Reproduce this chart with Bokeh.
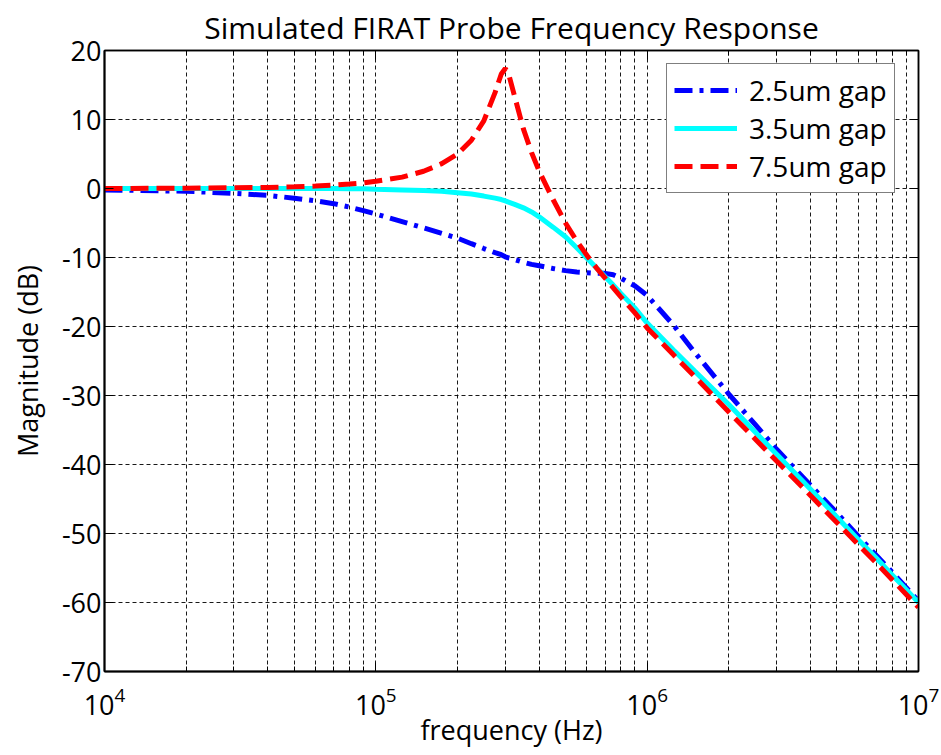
from bokeh.plotting import figure
from bokeh.models import (LogAxis, LinearAxis, Legend, LegendItem,
                          FixedTicker, ColumnDataSource)
from bokeh.embed import file_html
from bokeh.resources import INLINE

# ---- data ----
freq_hz = [1e4, 2e4, 3e4, 4e4, 5e4, 6e4, 7e4, 8e4, 9e4, 1e5,
           1.25e5, 1.5e5, 1.75e5, 2e5, 2.25e5, 2.5e5, 2.75e5, 2.9e5, 3e5, 3.1e5,
           3.25e5, 3.5e5, 3.75e5, 4e5, 4.5e5, 5e5, 5.5e5, 6e5, 6.5e5, 7e5,
           7.5e5, 8e5, 9e5, 1e6, 1.25e6, 1.5e6, 2e6, 2.5e6, 3e6, 4e6,
           5e6, 6e6, 7e6, 8e6, 9e6, 1e7]

gap_2_5um = [-0.2, -0.4, -0.7, -1.0, -1.4, -1.8, -2.2, -2.7, -3.2, -3.7,
             -4.8, -5.7, -6.5, -7.2, -8.0, -8.7, -9.3, -9.6, -9.9, -10.1,
             -10.3, -10.7, -11.0, -11.2, -11.6, -11.9, -12.1, -12.2, -12.3, -12.3,
             -12.5, -13.0, -14.1, -15.5, -19.8, -23.8, -29.8, -34.2, -37.8, -43.0,
             -47.0, -50.4, -53.2, -55.6, -57.8, -59.8]

gap_3_5um = [0.0, 0.0, 0.0, 0.0, 0.0, 0.0, 0.0, -0.05, -0.05, -0.1,
             -0.2, -0.3, -0.4, -0.6, -0.8, -1.1, -1.4, -1.6, -1.8, -2.0,
             -2.3, -2.8, -3.4, -4.1, -5.6, -7.0, -8.6, -10.1, -11.5, -12.8,
             -14.0, -15.2, -17.3, -19.5, -23.4, -26.5, -31.3, -35.3, -38.5, -43.6,
             -47.6, -50.9, -53.6, -56.0, -58.1, -60.0]

gap_7_5um = [0.0, 0.05, 0.1, 0.15, 0.25, 0.35, 0.5, 0.65, 0.8, 1.05,
             1.65, 2.5, 3.6, 5.0, 7.0, 9.8, 13.9, 16.6, 17.4, 16.3,
             13.3, 8.6, 5.2, 2.5, -1.6, -5.0, -7.6, -9.7, -11.5, -13.0,
             -14.4, -15.7, -18.0, -20.2, -24.1, -27.3, -32.4, -36.3, -39.5, -44.5,
             -48.4, -51.6, -54.3, -56.7, -58.8, -60.7]

series_labels = ["2.5um gap", "3.5um gap", "7.5um gap"]
x_major_ticks = [1e4, 1e5, 1e6, 1e7]
y_ticks = [20, 10, 0, -10, -20, -30, -40, -50, -60, -70]

FONT = "Open Sans"

src = ColumnDataSource(dict(f=freq_hz, a=gap_2_5um, b=gap_3_5um, c=gap_7_5um))

p = figure(width=941, height=755, x_axis_type="log",
           x_range=(x_major_ticks[0], x_major_ticks[-1]),
           y_range=(y_ticks[-1], y_ticks[0]),
           output_backend="svg", toolbar_location=None,
           min_border_left=104, min_border_right=23,
           min_border_top=50, min_border_bottom=84,
           title="Simulated FIRAT Probe Frequency Response")

p.title.align = "center"
p.title.text_font = FONT
p.title.text_font_size = "30px"
p.title.text_font_style = "normal"
p.title.text_color = "black"
p.title.standoff = 6

p.outline_line_color = "black"
p.outline_line_width = 1.5
p.background_fill_color = "white"
p.border_fill_color = "white"

minor_x = [m * d for d in x_major_ticks[:-1] for m in range(2, 10)]

# bottom axis (default log formatter draws 10 with a superscript exponent)
xa = p.xaxis[0]
xa.ticker = FixedTicker(ticks=x_major_ticks, minor_ticks=minor_x)
xa.major_label_text_font = FONT
xa.major_label_text_font_size = "27px"
xa.major_label_text_color = "black"
xa.major_label_standoff = 15
xa.axis_label = "frequency (Hz)"
xa.axis_label_text_font = FONT
xa.axis_label_text_font_size = "27px"
xa.axis_label_text_font_style = "normal"
xa.axis_label_text_color = "black"
xa.axis_label_standoff = -7
xa.axis_line_color = "black"
xa.axis_line_width = 2
xa.major_tick_in = 9
xa.major_tick_out = 0
xa.minor_tick_in = 5
xa.minor_tick_out = 0
xa.major_tick_line_color = "black"
xa.minor_tick_line_color = "black"

# left axis
ya = p.yaxis[0]
ya.ticker = FixedTicker(ticks=y_ticks)
ya.major_label_overrides = {t: str(t) for t in y_ticks}
ya.major_label_text_font = FONT
ya.major_label_text_font_size = "27px"
ya.major_label_text_color = "black"
ya.major_label_standoff = 3
ya.axis_label = "Magnitude (dB)"
ya.axis_label_text_font = FONT
ya.axis_label_text_font_size = "27px"
ya.axis_label_text_font_style = "normal"
ya.axis_label_text_color = "black"
ya.axis_label_standoff = 13
ya.axis_line_color = "black"
ya.axis_line_width = 2
ya.major_tick_in = 9
ya.major_tick_out = 0
ya.minor_tick_line_color = None
ya.major_tick_line_color = "black"

# mirrored axes (top / right) with inward ticks and no visible labels
top = LogAxis(ticker=FixedTicker(ticks=x_major_ticks, minor_ticks=minor_x),
              major_label_text_font_size="1px", major_label_text_color=None,
              major_label_standoff=0,
              major_tick_in=9, major_tick_out=0, minor_tick_in=5, minor_tick_out=0,
              axis_line_color="black", axis_line_width=1.5)
right = LinearAxis(ticker=FixedTicker(ticks=y_ticks),
                   major_label_text_font_size="1px", major_label_text_color=None,
                   major_label_standoff=0,
                   major_tick_in=9, major_tick_out=0, minor_tick_line_color=None,
                   axis_line_color="black", axis_line_width=1.5)
p.add_layout(top, "above")
p.add_layout(right, "right")

# grids
for g in (p.xgrid[0], p.ygrid[0]):
    g.grid_line_color = "black"
    g.grid_line_dash = "4 3"
    g.grid_line_alpha = 0.9
    g.grid_line_width = 1
p.xgrid[0].ticker = FixedTicker(ticks=x_major_ticks, minor_ticks=minor_x)
p.xgrid[0].minor_grid_line_color = "black"
p.xgrid[0].minor_grid_line_dash = "4 3"
p.xgrid[0].minor_grid_line_alpha = 0.9
p.ygrid[0].ticker = FixedTicker(ticks=y_ticks)

# curves
r1 = p.line("f", "a", source=src, line_color="#0000ff", line_width=5,
            line_dash="18 7 4 7")
r2 = p.line("f", "b", source=src, line_color="#00ffff", line_width=5)
r3 = p.line("f", "c", source=src, line_color="#ff0000", line_width=5,
            line_dash="18 8")

legend = Legend(items=[LegendItem(label=series_labels[0], renderers=[r1]),
                       LegendItem(label=series_labels[1], renderers=[r2]),
                       LegendItem(label=series_labels[2], renderers=[r3])],
                location=(562, 478), orientation="vertical",
                border_line_color="black", border_line_width=1.5,
                background_fill_color="white", background_fill_alpha=1,
                padding=7, spacing=-3, margin=0,
                glyph_width=63, glyph_height=30, label_height=30,
                label_standoff=12, label_text_font=FONT,
                label_text_font_size="28px", label_text_color="black")
p.add_layout(legend)

open("out.html", "w").write(file_html(p, INLINE))
